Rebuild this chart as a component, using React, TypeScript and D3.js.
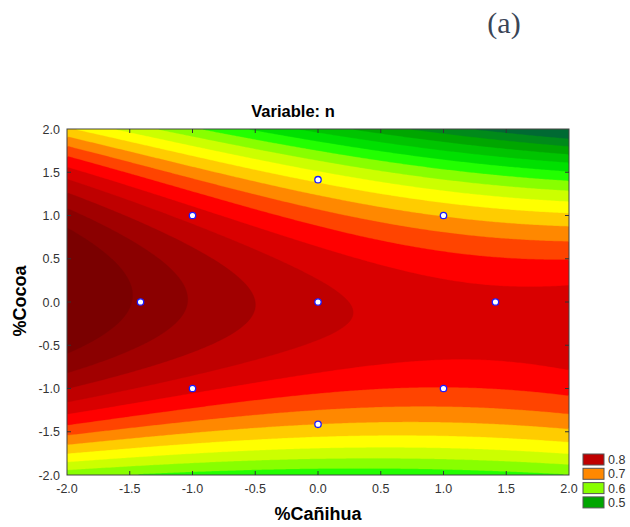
import React from "react";
import * as d3 from "d3";

// ---- data ----
// fitted response surface n(%Cañihua = x, %Cocoa = y): coefficient for each term
const modelTerms = ["1", "x", "y", "x2", "y2", "xy", "x2y2"];
const modelCoefs = [0.807, -0.031, -0.011, 0.01, -0.0615, -0.0142, -0.0012];

// contour levels (lower bound of each band) and their colours
const levels = [0.45, 0.475, 0.5, 0.525, 0.55, 0.575, 0.6, 0.625, 0.65, 0.675, 0.7, 0.725, 0.75, 0.775, 0.8, 0.825, 0.85, 0.875];
const levelColors = [
  "#006a33", "#008a1a", "#00a600", "#00c400", "#00e000", "#22ff00", "#88ff00", "#ccff00", "#ffff00",
  "#ffcc00", "#ff8800", "#ff4400", "#ff0000", "#d90000", "#bf0000", "#a10000", "#8b0000", "#7a0000",
];

// experimental design points
const designX = [-1, 1, -1, 1, -1.414, 1.414, 0, 0, 0];
const designY = [1, 1, -1, -1, 0, 0, 1.414, -1.414, 0];

const tickValues = [-2, -1.5, -1, -0.5, 0, 0.5, 1, 1.5, 2];
const legendValues = [0.8, 0.7, 0.6, 0.5];

const title = "Variable: n";
const xTitle = "%Cañihua";
const yTitle = "%Cocoa";
const panelLabel = "(a)";

// ---- layout ----
const W = 630, H = 527;
const L = 67, R = 569, T = 129, B = 475;
const FONT = "Arial, 'Liberation Sans', sans-serif";

function model(x: number, y: number) {
  const t: Record<string, number> = { "1": 1, x, y, x2: x * x, y2: y * y, xy: x * y, x2y2: x * x * y * y };
  let s = 0;
  modelTerms.forEach((k, i) => (s += modelCoefs[i] * t[k]));
  return s;
}

export default function App() {
  const xScale = d3.scaleLinear().domain([-2, 2]).range([L, R]);
  const yScale = d3.scaleLinear().domain([-2, 2]).range([B, T]);

  const nx = 250, ny = 200;
  const values = new Array(nx * ny);
  for (let j = 0; j < ny; j++) {
    const y = 2 - (4 * (j + 0.5)) / ny;
    for (let i = 0; i < nx; i++) {
      const x = -2 + (4 * (i + 0.5)) / nx;
      values[j * nx + i] = model(x, y);
    }
  }
  const contours = d3.contours().size([nx, ny]).thresholds(levels.slice(1))(values);
  const sx = (R - L) / nx, sy = (B - T) / ny;
  const path = d3.geoPath(
    d3.geoTransform({
      point(x: number, y: number) {
        (this as any).stream.point(L + x * sx, T + y * sy);
      },
    })
  );
  const colorOf = (v: number) => levelColors[levels.findIndex((l) => Math.abs(l - v) < 1e-9)];

  const inner = tickValues.slice(1, -1);
  const tk = 4;

  return (
    <svg width={W} height={H} style={{ position: "absolute", left: 0, top: 0, background: "#fff" }} fontFamily={FONT}>
      <rect x={0} y={0} width={W} height={H} fill="#fff" />
      <text x={504} y={33} fontFamily="'Liberation Serif', 'Times New Roman', serif" fontSize={30} fill="#3a4556" textAnchor="middle">
        {panelLabel}
      </text>
      <text x={293} y={117} fontSize={16.5} fontWeight="bold" textAnchor="middle" fill="#000">
        {title}
      </text>
      <defs>
        <clipPath id="plotclip">
          <rect x={L} y={T} width={R - L} height={B - T} />
        </clipPath>
      </defs>
      <g clipPath="url(#plotclip)">
        <rect x={L} y={T} width={R - L} height={B - T} fill={levelColors[0]} />
        {contours.map((c, i) => (
          <path key={i} d={path(c as any) || ""} fill={colorOf(c.value)} stroke={colorOf(c.value)} strokeWidth={0.3} />
        ))}
      </g>
      {/* frame */}
      <rect x={L} y={T} width={R - L} height={B - T} fill="none" stroke="#444" strokeWidth={1} />
      {/* inward ticks */}
      {inner.map((v) => (
        <g key={"t" + v} stroke="#333" strokeWidth={1}>
          <line x1={xScale(v)} x2={xScale(v)} y1={B} y2={B - tk} />
          <line x1={xScale(v)} x2={xScale(v)} y1={T} y2={T + tk} />
          <line x1={L} x2={L + tk} y1={yScale(v)} y2={yScale(v)} />
          <line x1={R} x2={R - tk} y1={yScale(v)} y2={yScale(v)} />
        </g>
      ))}
      {/* tick labels */}
      {tickValues.map((v) => (
        <text key={"xl" + v} x={xScale(v)} y={B + 18} fontSize={12.5} textAnchor="middle" fill="#333">
          {v.toFixed(1)}
        </text>
      ))}
      {tickValues.map((v) => (
        <text key={"yl" + v} x={L - 7} y={yScale(v) + 4.5} fontSize={12.5} textAnchor="end" fill="#333">
          {v.toFixed(1)}
        </text>
      ))}
      {/* axis titles */}
      <text x={(L + R) / 2} y={520} fontSize={18} fontWeight="bold" textAnchor="middle" fill="#000">
        {xTitle}
      </text>
      <text transform={`translate(26,301) rotate(-90)`} fontSize={18} fontWeight="bold" textAnchor="middle" fill="#000">
        {yTitle}
      </text>
      {/* design points */}
      {designX.map((x, i) => (
        <circle key={"p" + i} cx={xScale(x)} cy={yScale(designY[i])} r={3.2} fill="#fff" stroke="#1a1aff" strokeWidth={1.3} />
      ))}
      {/* legend */}
      {legendValues.map((v, i) => (
        <g key={"lg" + v}>
          <rect x={583} y={454 + i * 14.3} width={21} height={11} fill={colorOf(v)} stroke="#555" strokeWidth={1} />
          <text x={608} y={464 + i * 14.3} fontSize={12.5} fill="#333">
            {v.toFixed(1)}
          </text>
        </g>
      ))}
    </svg>
  );
}
